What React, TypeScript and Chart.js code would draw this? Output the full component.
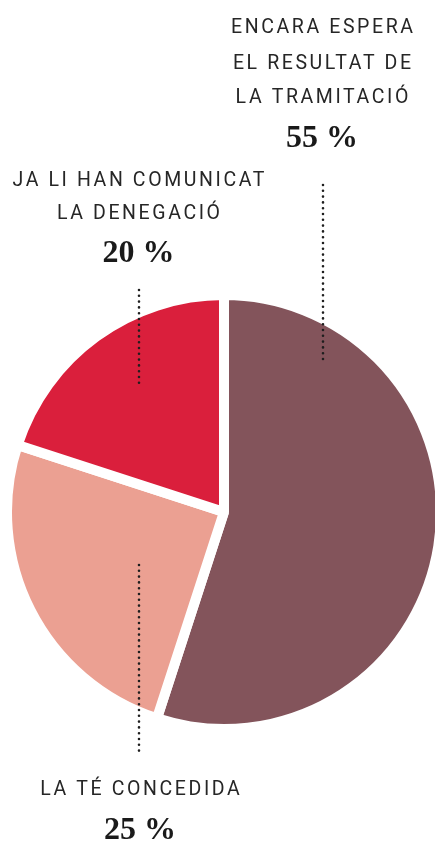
import { useEffect, useRef } from "react";
import { Chart, registerables } from "chart.js";

Chart.register(...registerables);

// ---- data ----
const categories = [
  "ENCARA ESPERA EL RESULTAT DE LA TRAMITACIÓ",
  "LA TÉ CONCEDIDA",
  "JA LI HAN COMUNICAT LA DENEGACIÓ",
];
const labelLines = [
  ["ENCARA ESPERA", "EL RESULTAT DE", "LA TRAMITACIÓ"],
  ["LA TÉ CONCEDIDA"],
  ["JA LI HAN COMUNICAT", "LA DENEGACIÓ"],
];
const values = [55, 25, 20];
const colors = ["#83545b", "#eba092", "#da1f3c"];

// ---- label layout (offsets from the pie centre, px) ----
const labelLayout = [
  { dx: 99, textDx: 98, lines: [-479, -443, -409], pct: -365, dotFrom: -327, dotTo: -150 },
  { dx: -85, textDx: -84, lines: [283], pct: 327, dotFrom: 53, dotTo: 240 },
  { dx: -85, textDx: -85.5, lines: [-326, -293], pct: -250, dotFrom: -222, dotTo: -128 },
];

const SPACING = 2.6;

const labelPlugin = {
  id: "calloutLabels",
  afterDraw(chart: any) {
    const { ctx, chartArea } = chart;
    const cx = (chartArea.left + chartArea.right) / 2;
    const cy = (chartArea.top + chartArea.bottom) / 2;
    ctx.save();
    labelLayout.forEach((l, i) => {
      // dotted leader
      ctx.beginPath();
      ctx.strokeStyle = "#1e1e1e";
      ctx.lineWidth = 2.6;
      ctx.lineCap = "round";
      ctx.setLineDash([0, 5.8]);
      ctx.moveTo(cx + l.dx, cy + l.dotFrom);
      ctx.lineTo(cx + l.dx, cy + l.dotTo);
      ctx.stroke();
      ctx.setLineDash([]);
      // category text
      ctx.fillStyle = "#262626";
      ctx.textAlign = "center";
      ctx.textBaseline = "alphabetic";
      ctx.font = "400 19.5px Roboto";
      (ctx as any).letterSpacing = `${SPACING}px`;
      labelLines[i].forEach((t, j) => {
        ctx.fillText(t, cx + l.textDx + SPACING / 2, cy + l.lines[j]);
      });
      // percentage
      (ctx as any).letterSpacing = "0px";
      ctx.fillStyle = "#1a1a1a";
      ctx.font = "bold 32px 'Liberation Serif'";
      ctx.fillText(`${values[i]} %`, cx + l.textDx, cy + l.pct);
    });
    ctx.restore();
  },
};

export default function App() {
  const ref = useRef<HTMLCanvasElement>(null);
  useEffect(() => {
    if (!ref.current) return;
    const chart = new Chart(ref.current, {
      type: "pie",
      data: {
        labels: categories,
        datasets: [
          {
            data: values,
            backgroundColor: colors,
            borderColor: "#ffffff",
            borderWidth: 10,
          },
        ],
      },
      options: {
        responsive: false,
        animation: false,
        events: [],
        radius: 217,
        layout: { padding: { top: 288, bottom: 108, left: 0, right: 0 } },
        plugins: {
          legend: { display: false },
          tooltip: { enabled: false },
        },
      } as any,
      plugins: [labelPlugin],
    });
    return () => chart.destroy();
  }, []);
  return (
    <div
      style={{
        position: "fixed",
        left: 0,
        top: 0,
        width: 435,
        height: 844,
        overflow: "hidden",
        background: "#ffffff",
      }}
    >
      <canvas ref={ref} width={448} height={844} style={{ display: "block" }} />
    </div>
  );
}
